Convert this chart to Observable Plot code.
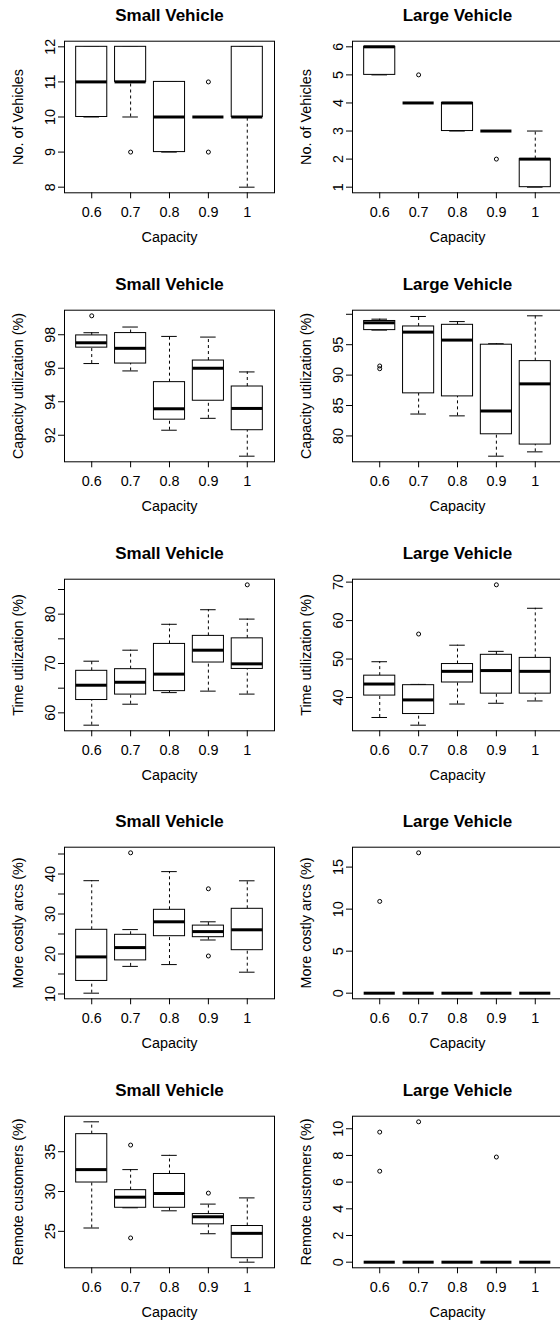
<!DOCTYPE html>
<html><head><meta charset="utf-8">
<script src="https://cdn.jsdelivr.net/npm/d3@7"></script>
<script src="https://cdn.jsdelivr.net/npm/@observablehq/plot@0.6"></script>
<style>
html,body{margin:0;padding:0;background:#fff;}
#wrap{width:560px;height:1322px;overflow:hidden;position:relative;background:#fff;}
#grid{width:576px;display:grid;grid-template-columns:288px 288px;}
#grid svg{display:block;}
</style></head><body><div id="wrap"><div id="grid"></div></div>
<script>
const capacities = ["0.6", "0.7", "0.8", "0.9", "1"];

// Box statistics per capacity: [lower whisker, Q1, median, Q3, upper whisker]
// Outliers: [capacity position (1-5), value]
const vehiclesSmall = [[10,10,11,12,12],[10,11,11,12,12],[9,9,10,11,11],[10,10,10,10,10],[8,10,10,12,12]];
const vehiclesSmallOut = [[2,9],[4,11],[4,9]];
const vehiclesLarge = [[5,5,6,6,6],[4,4,4,4,4],[3,3,4,4,4],[3,3,3,3,3],[1,1,2,2,3]];
const vehiclesLargeOut = [[2,5],[4,2]];

const capUtilSmall = [[96.28,97.23,97.52,97.96,98.12],[95.84,96.28,97.19,98.1,98.46],[92.3,92.93,93.58,95.17,97.9],[93.01,94.06,96.0,96.46,97.86],[90.75,92.3,93.6,94.91,95.78]];
const capUtilSmallOut = [[1,99.13]];
const capUtilLarge = [[97.4,97.4,98.6,98.9,99.2],[83.6,87.0,97.07,98.0,99.64],[83.3,86.5,95.76,98.27,98.8],[76.67,80.27,84.1,95.0,95.16],[77.38,78.58,88.56,92.3,99.75]];
const capUtilLargeOut = [[1,91.5],[1,91.05]];

const timeUtilSmall = [[57.5,62.6,65.6,68.52,70.47],[61.75,63.7,66.2,68.85,72.7],[64.1,64.4,67.85,73.97,77.95],[64.4,70.2,72.7,75.6,80.9],[63.8,68.9,69.93,75.1,79.0]];
const timeUtilSmallOut = [[5,85.95]];
const timeUtilLarge = [[34.8,40.5,43.5,45.68,49.3],[32.8,35.7,39.37,43.2,43.4],[38.3,43.9,46.8,48.7,53.6],[38.5,41.0,47.0,51.1,52.0],[39.1,41.0,46.8,50.3,63.2]];
const timeUtilLargeOut = [[2,56.5],[4,69.3]];

const arcsSmall = [[10.2,13.26,19.27,26.05,38.33],[16.9,18.4,21.6,24.8,26.1],[17.35,24.45,28.05,31.05,40.6],[23.5,24.2,25.6,27.1,28.05],[15.45,20.95,26.05,31.3,38.3]];
const arcsSmallOut = [[2,45.3],[4,36.3],[4,19.5]];
const arcsLarge = [[0,0,0,0,0],[0,0,0,0,0],[0,0,0,0,0],[0,0,0,0,0],[0,0,0,0,0]];
const arcsLargeOut = [[1,10.92],[2,16.7]];

const remoteSmall = [[25.42,31.13,32.75,37.2,38.75],[27.96,27.96,29.29,30.17,32.75],[27.58,27.96,29.75,32.2,34.54],[24.7,25.88,26.83,27.17,28.42],[21.13,21.63,24.75,25.67,29.2]];
const remoteSmallOut = [[2,35.83],[2,24.17],[4,29.8]];
const remoteLarge = [[0,0,0,0,0],[0,0,0,0,0],[0,0,0,0,0],[0,0,0,0,0],[0,0,0,0,0]];
const remoteLargeOut = [[1,9.75],[1,6.82],[2,10.52],[4,7.88]];

// y ticks and which of them carry labels
const vehiclesSmallTicks = [8,9,10,11,12], vehiclesSmallLabels = [8,9,10,11,12];
const vehiclesLargeTicks = [1,2,3,4,5,6], vehiclesLargeLabels = [1,2,3,4,5,6];
const capUtilSmallTicks = [92,94,96,98], capUtilSmallLabels = [92,94,96,98];
const capUtilLargeTicks = [80,85,90,95,100], capUtilLargeLabels = [80,85,90,95];
const timeUtilSmallTicks = [60,65,70,75,80,85], timeUtilSmallLabels = [60,70,80];
const timeUtilLargeTicks = [40,50,60,70], timeUtilLargeLabels = [40,50,60,70];
const arcsSmallTicks = [10,15,20,25,30,35,40,45], arcsSmallLabels = [10,20,30,40];
const arcsLargeTicks = [0,5,10,15], arcsLargeLabels = [0,5,10,15];
const remoteSmallTicks = [25,30,35], remoteSmallLabels = [25,30,35];
const remoteLargeTicks = [0,2,4,6,8,10], remoteLargeLabels = [0,2,4,6,8,10];

const titles = ["Small Vehicle", "Large Vehicle"];
const yLabels = ["No. of Vehicles", "Capacity utilization (%)", "Time utilization (%)", "More costly arcs (%)", "Remote customers (%)"];
const xLabel = "Capacity";

const panels = [
  [vehiclesSmall, vehiclesSmallOut, vehiclesSmallTicks, vehiclesSmallLabels, 0, 0],
  [vehiclesLarge, vehiclesLargeOut, vehiclesLargeTicks, vehiclesLargeLabels, 1, 0],
  [capUtilSmall, capUtilSmallOut, capUtilSmallTicks, capUtilSmallLabels, 0, 1],
  [capUtilLarge, capUtilLargeOut, capUtilLargeTicks, capUtilLargeLabels, 1, 1],
  [timeUtilSmall, timeUtilSmallOut, timeUtilSmallTicks, timeUtilSmallLabels, 0, 2],
  [timeUtilLarge, timeUtilLargeOut, timeUtilLargeTicks, timeUtilLargeLabels, 1, 2],
  [arcsSmall, arcsSmallOut, arcsSmallTicks, arcsSmallLabels, 0, 3],
  [arcsLarge, arcsLargeOut, arcsLargeTicks, arcsLargeLabels, 1, 3],
  [remoteSmall, remoteSmallOut, remoteSmallTicks, remoteSmallLabels, 0, 4],
  [remoteLarge, remoteLargeOut, remoteLargeTicks, remoteLargeLabels, 1, 4]
];

const font = "'Liberation Sans', Arial, Helvetica, sans-serif";

function draw([stats, out, ticks, labeled, col, row]) {
  const rows = stats.map((s, i) => ({x: i + 1, lo: s[0], q1: s[1], med: s[2], q3: s[3], hi: s[4]}));
  const outs = out.map(([i, v]) => ({x: i, v}));
  const vals = rows.flatMap(r => [r.lo, r.hi]).concat(outs.map(o => o.v));
  const mn = d3.min(vals), mx = d3.max(vals), rg = mx - mn;
  const line = {stroke: "#000", strokeWidth: 1};
  const label = {text: d => d, textAnchor: "middle", lineAnchor: "middle", fill: "#000"};
  return Plot.plot({
    width: 288, height: 268.8,
    marginLeft: 64, marginRight: 14, marginTop: 40.7, marginBottom: 76.5,
    style: {fontFamily: font, fontSize: "14.4px", color: "#000", background: "transparent", overflow: "visible"},
    x: {type: "linear", domain: [0.3, 5.7]},
    y: {domain: [mn - 0.04 * rg, mx + 0.04 * rg]},
    marks: [
      Plot.ruleX(rows, {x: "x", y1: "q3", y2: "hi", ...line, strokeDasharray: "3,3"}),
      Plot.ruleX(rows, {x: "x", y1: "lo", y2: "q1", ...line, strokeDasharray: "3,3"}),
      Plot.ruleY(rows, {y: "hi", x1: d => d.x - 0.2, x2: d => d.x + 0.2, ...line}),
      Plot.ruleY(rows, {y: "lo", x1: d => d.x - 0.2, x2: d => d.x + 0.2, ...line}),
      Plot.rect(rows, {x1: d => d.x - 0.4, x2: d => d.x + 0.4, y1: "q1", y2: "q3", fill: "white", ...line}),
      Plot.ruleY(rows, {y: "med", x1: d => d.x - 0.4, x2: d => d.x + 0.4, stroke: "#000", strokeWidth: 3}),
      Plot.dot(outs, {x: "x", y: "v", r: 2, stroke: "#000", strokeWidth: 1, fill: "none"}),
      Plot.frame({stroke: "#000", strokeWidth: 1}),
      Plot.axisX([1, 2, 3, 4, 5], {tickFormat: d => capacities[d - 1], tickSize: 6, tickPadding: 8, label: null, stroke: "#000"}),
      Plot.axisY(ticks, {tickFormat: d => labeled.includes(d) ? String(d) : "", tickRotate: -90, tickSize: 6, tickPadding: 4, label: null, stroke: "#000"}),
      Plot.text([titles[col]], {...label, frameAnchor: "top", dy: -25.7, fontSize: 17, fontWeight: "bold"}),
      Plot.text([yLabels[row]], {...label, frameAnchor: "left", rotate: -90, dx: -45.7, fontSize: 14.4}),
      Plot.text([xLabel], {...label, frameAnchor: "bottom", dy: 44.4, fontSize: 14.4})
    ]
  });
}

const grid = document.getElementById("grid");
for (const p of panels) grid.appendChild(draw(p));
</script>
</body></html>
